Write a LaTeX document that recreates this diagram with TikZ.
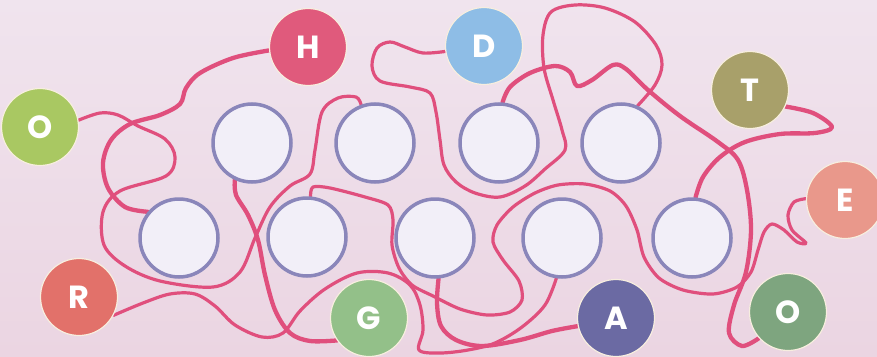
\documentclass[tikz,border=0pt]{standalone}
\usepackage{fontspec}
\newfontfamily\lf{Poppins}
\pgfdeclarelayer{back}
\pgfdeclarelayer{lines}
\pgfsetlayers{back,lines,main}
\definecolor{bgtop}{HTML}{F0E4EE}
\definecolor{bgbot}{HTML}{EBD5E2}
\definecolor{linec}{HTML}{E04F7D}
\definecolor{ringc}{HTML}{8A86BA}
\definecolor{whc}{HTML}{F2EFF8}
\definecolor{rimc}{HTML}{F7EEDF}
\definecolor{cO}{HTML}{A9C862}
\definecolor{cH}{HTML}{E05A7C}
\definecolor{cD}{HTML}{8EBDE6}
\definecolor{cT}{HTML}{A8A06A}
\definecolor{cE}{HTML}{E9988B}
\definecolor{cR}{HTML}{E2716A}
\definecolor{cG}{HTML}{93C089}
\definecolor{cA}{HTML}{6B6AA3}
\definecolor{cOb}{HTML}{7EA57F}
\begin{document}
\begin{tikzpicture}[x=1pt,y=-1pt,
  wc/.style={circle,minimum size=78pt,inner sep=0pt,draw=ringc,line width=3.5pt,fill=whc},
  lc/.style={circle,minimum size=77pt,inner sep=0pt,draw=rimc,line width=1.2pt,text=white,font=\lf\bfseries\fontsize{32}{32}\selectfont},
  cord/.style={draw=linec,line width=4.3pt,line cap=round,line join=round},
  cordthin/.style={cord,line width=3.2pt}]
\begin{pgfonlayer}{back}
\shade[top color=bgtop,bottom color=bgbot] (0,0) rectangle (877,356);
\end{pgfonlayer}
\useasboundingbox (0,0) rectangle (877,356);
% letter circles
\node[lc,fill=cO]  (oa) at (40,127) {O};
\node[lc,fill=cH]  (h)  at (308,47) {H};
\node[lc,fill=cD]  (d)  at (484,46) {D};
\node[lc,fill=cT]  (t)  at (750,90) {T};
\node[lc,fill=cE]  (e)  at (845,200) {E};
\node[lc,fill=cR]  (r)  at (79,297) {R};
\node[lc,fill=cG]  (g)  at (369,318) {G};
\node[lc,fill=cA]  (a)  at (616,318) {A};
\node[lc,fill=cOb] (ob) at (788,312) {O};
% white circles
\node[wc] (t1) at (252,143) {};
\node[wc] (t2) at (375,143) {};
\node[wc] (t3) at (499,143) {};
\node[wc] (t4) at (621,143) {};
\node[wc] (b1) at (179,238) {};
\node[wc] (b2) at (307,237) {};
\node[wc] (b3) at (435,238) {};
\node[wc] (b4) at (562,238) {};
\node[wc] (b5) at (692,238) {};
\begin{pgfonlayer}{lines}
% O -> t2
\draw[cordthin] plot[smooth,tension=0.55] coordinates {(oa.10) (100,113) (118,115) (138,126) (165,139) (175,157) (166,176) (120,191) (103,212) (104,245) (125,266) (160,281) (213,287) (240,272) (255,238) (270,207) (290,186) (310,174) (315,150) (322,112) (338,98) (356,97) (t2.110)};
% H -> b1
\draw[cord] plot[smooth,tension=0.55] coordinates {(h.185) (233,58) (200,73) (186,88) (180,104) (160,115) (130,124) (111,140) (103,163) (108,188) (125,207) (b1.140)};
% t1 -> G
\draw[cord] plot[smooth,tension=0.55] coordinates {(t1.245) (236,195) (248,215) (258,240) (265,275) (275,310) (290,333) (310,341) (g.215)};
% R -> b4
\draw[cordthin] plot[smooth,tension=0.55] coordinates {(r.-28) (143,303) (170,294) (195,294) (215,306) (235,325) (262,337) (283,333) (300,311) (325,289) (357,273) (388,273) (410,285) (420,305) (423,330) (419,350) (440,353) (468,350) (495,343) (522,327) (545,305) (b4.262)};
% b3 -> A
\draw[cord] plot[smooth,tension=0.55] coordinates {(b3.275) (437,303) (441,326) (456,340) (482,346) (520,340) (552,331) (a.192)};
% D -> t4
\draw[cordthin] plot[smooth,tension=0.55] coordinates {(d.188) (423,53) (405,47) (390,42) (377,48) (372,66) (380,81) (410,87) (430,93) (436,112) (440,140) (444,165) (456,182) (475,193) (500,197) (525,186) (545,169) (565,150) (562,130) (553,100) (544,68) (543,35) (551,12) (575,5) (605,8) (635,22) (656,45) (662,65) (655,85) (t4.66)};
% t3 -> O2
\draw[cord] plot[smooth,tension=0.55] coordinates {(t3.85) (510,87) (530,73) (555,66) (570,72) (577,86) (592,80) (613,65) (626,69) (648,90) (680,116) (718,142) (738,160) (747,190) (751,230) (746,272) (734,305) (729,333) (742,346) (ob.222)};
% T -> b5
\draw[cord] plot[smooth,tension=0.55] coordinates {(t.-25) (813,113) (832,127) (815,133) (780,134) (745,142) (720,157) (703,177) (b5.85)};
% E -> b2
\draw[cordthin] plot[smooth,tension=0.5] coordinates {(e.178) (794,202) (788,215) (792,230) (806,243) (797,242) (784,230) (772,224) (764,232) (758,250) (751,272) (737,287) (713,294) (683,290) (659,278) (644,257) (637,230) (626,206) (610,191) (585,184) (558,185) (535,193) (513,207) (497,225) (493,242) (503,260) (519,281) (522,300) (510,312) (487,315) (460,309) (433,296) (412,285) (399,268) (392,245) (393,220) (388,205) (365,197) (330,188) (313,187) (b2.85)};
\end{pgfonlayer}
\end{tikzpicture}
\end{document}
